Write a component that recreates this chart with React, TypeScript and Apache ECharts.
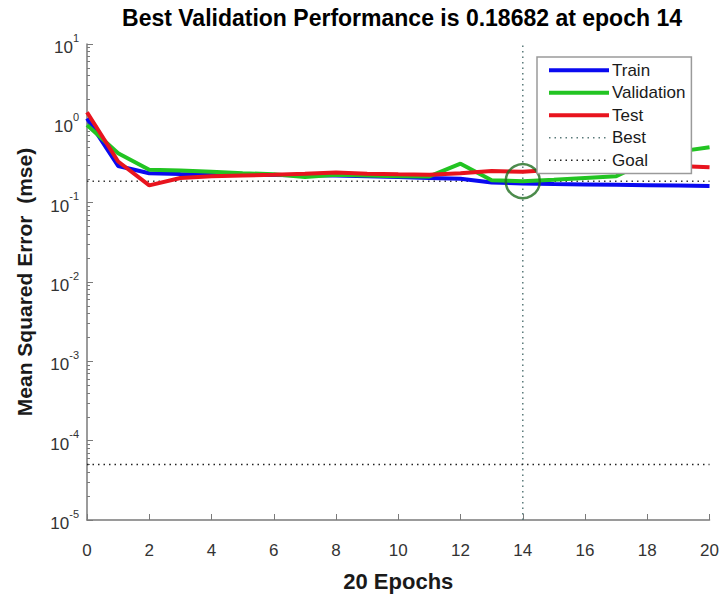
import React, { useEffect, useRef } from "react";
import * as echarts from "echarts";

const epochs = [0, 1, 2, 3, 4, 5, 6, 7, 8, 9, 10, 11, 12, 13, 14, 15, 16, 17, 18, 19, 20];
const trainMse = [1.15, 0.29, 0.235, 0.23, 0.228, 0.226, 0.224, 0.222, 0.22, 0.215, 0.21, 0.205, 0.2, 0.18, 0.175, 0.172, 0.17, 0.168, 0.166, 0.164, 0.162];
const validationMse = [0.95, 0.42, 0.26, 0.255, 0.245, 0.235, 0.228, 0.21, 0.225, 0.22, 0.215, 0.214, 0.31, 0.192, 0.18682, 0.195, 0.205, 0.215, 0.33, 0.44, 0.5];
const testMse = [1.38, 0.33, 0.165, 0.205, 0.215, 0.22, 0.225, 0.232, 0.24, 0.232, 0.228, 0.225, 0.235, 0.25, 0.245, 0.26, 0.265, 0.27, 0.275, 0.29, 0.28];
const bestEpoch = 14;
const bestPerf = 0.18682;
const goalMse = 5e-5;
const yMin = 1e-5;
const yMax = 10;
const xMin = 0;
const xMax = 20;
const legendNames = ["Train", "Validation", "Test", "Best", "Goal"];
const titleText = "Best Validation Performance is 0.18682 at epoch 14";
const xName = "20 Epochs";
const yName = "Mean Squared Error  (mse)";

const FONT = "Liberation Sans, Arial, Helvetica, sans-serif";

export default function App() {
  const ref = useRef<HTMLDivElement>(null);
  useEffect(() => {
    if (!ref.current) return;
    const chart = echarts.init(ref.current, undefined, { renderer: "svg" });
    const pts = (arr: number[]) => epochs.map((e, i) => [e, arr[i]]);
    const dotted = [1.5, 4];
    chart.setOption({
      animation: false,
      backgroundColor: "#ffffff",
      textStyle: { fontFamily: FONT },
      graphic: [
        {
          type: "text",
          x: 402,
          y: 6,
          style: {
            text: titleText,
            textAlign: "center",
            fontFamily: FONT,
            fontWeight: "bold",
            fontSize: 23,
            fill: "#000000",
          },
        },
      ],
      grid: { left: 87, right: 5, top: 44, bottom: 76, containLabel: false },
      legend: {
        data: legendNames.map((n, i) => ({
          name: n,
          lineStyle: { width: i < 3 ? 4 : 1.5 },
        })),
        orient: "vertical",
        left: 537,
        top: 57,
        z: 20,
        itemWidth: 60,
        itemHeight: 14,
        itemGap: 0,
        padding: [2, 6, 2, 10],
        backgroundColor: "#ffffff",
        borderColor: "#9a9a9a",
        borderWidth: 1.5,
        itemStyle: { opacity: 0 },
        textStyle: { fontSize: 17, color: "#1a1a1a", fontFamily: FONT, lineHeight: 22.5, padding: [0, 0, 0, -2] },
      },
      xAxis: {
        type: "value",
        min: xMin,
        max: xMax,
        interval: 2,
        name: xName,
        nameLocation: "middle",
        nameGap: 50,
        nameTextStyle: { fontSize: 22, fontWeight: "bold", color: "#1a1a1a", fontFamily: FONT },
        axisLine: { show: true, lineStyle: { color: "#7a7a7a", width: 1.5 } },
        axisTick: { show: true, inside: true, length: 6, lineStyle: { color: "#7a7a7a" } },
        axisLabel: { fontSize: 17, color: "#333333", margin: 22, fontFamily: FONT },
        splitLine: { show: false },
      },
      yAxis: {
        type: "log",
        logBase: 10,
        min: yMin,
        max: yMax,
        interval: 1,
        name: yName,
        nameLocation: "middle",
        nameGap: 52,
        nameTextStyle: { fontSize: 21, fontWeight: "bold", color: "#1a1a1a", fontFamily: FONT },
        axisLine: { show: true, lineStyle: { color: "#7a7a7a", width: 1.5 } },
        axisTick: { show: true, inside: true, length: 6, lineStyle: { color: "#7a7a7a" } },
        minorTick: { show: true, splitNumber: 9, length: 3, lineStyle: { color: "#7a7a7a" } },
        axisLabel: {
          margin: 8,
          fontFamily: FONT,
          formatter: (v: number) => `{b|10}{s|${Math.round(Math.log10(v))}}`,
          rich: {
            b: { fontSize: 17, color: "#333333", fontFamily: FONT, verticalAlign: "bottom", lineHeight: 24 },
            s: { fontSize: 11, color: "#333333", fontFamily: FONT, verticalAlign: "top", lineHeight: 24 },
          },
        },
        splitLine: { show: false },
      },
      series: [
        {
          name: "Train",
          type: "line",
          data: pts(trainMse),
          symbol: "none",
          lineStyle: { color: "#0a0af0", width: 4 },
          itemStyle: { color: "#0a0af0" },
          z: 3,
        },
        {
          name: "Validation",
          type: "line",
          data: pts(validationMse),
          symbol: "none",
          lineStyle: { color: "#22c422", width: 4 },
          itemStyle: { color: "#22c422" },
          z: 4,
        },
        {
          name: "Test",
          type: "line",
          data: pts(testMse),
          symbol: "none",
          lineStyle: { color: "#e8141e", width: 4 },
          itemStyle: { color: "#e8141e" },
          z: 5,
        },
        {
          name: "Best",
          type: "line",
          data: [[bestEpoch, yMin], [bestEpoch, yMax]],
          symbol: "none",
          lineStyle: { color: "#5a7a7a", width: 1.5, type: dotted },
          itemStyle: { color: "#5a7a7a" },
          z: 2,
        },
        {
          name: "Best",
          type: "line",
          data: [[xMin, bestPerf], [xMax, bestPerf]],
          symbol: "none",
          lineStyle: { color: "#3a3a3a", width: 1.5, type: dotted },
          itemStyle: { color: "#3a3a3a" },
          z: 2,
        },
        {
          name: "Goal",
          type: "line",
          data: [[xMin, goalMse], [xMax, goalMse]],
          symbol: "none",
          lineStyle: { color: "#222222", width: 1.5, type: dotted },
          itemStyle: { color: "#222222" },
          z: 2,
        },
        {
          name: "BestPoint",
          type: "scatter",
          data: [[bestEpoch, bestPerf]],
          symbol: "circle",
          symbolSize: 34,
          itemStyle: { color: "rgba(0,0,0,0)", borderColor: "#1f6e1f", borderWidth: 2.5 },
          z: 6,
        },
      ],
    });
    return () => chart.dispose();
  }, []);
  return <div ref={ref} style={{ position: "absolute", left: 0, top: 0, width: 722, height: 597 }} />;
}
